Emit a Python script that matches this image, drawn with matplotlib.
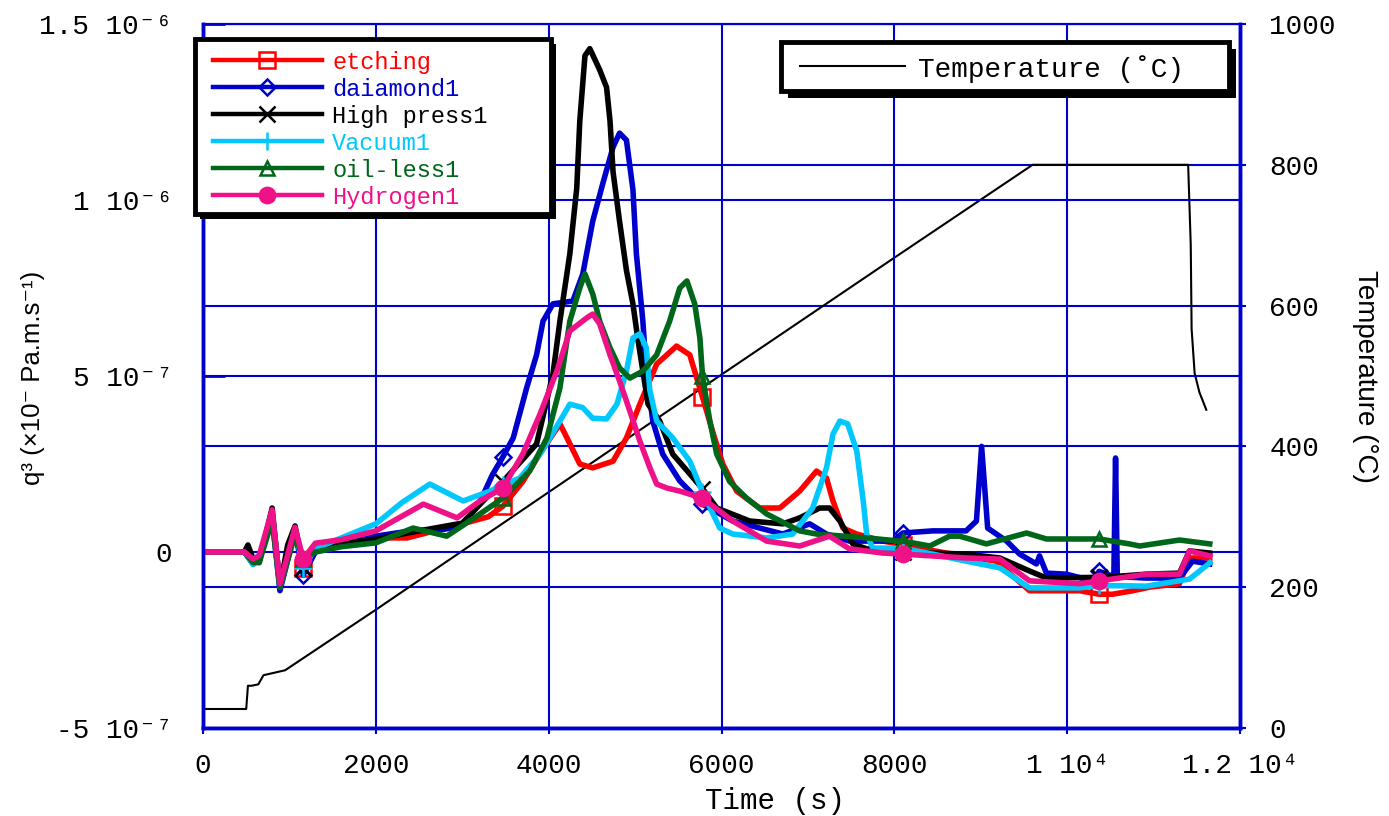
import matplotlib
matplotlib.use('Agg')
import matplotlib.pyplot as plt
import numpy as np
from matplotlib import font_manager
from matplotlib.lines import Line2D
from matplotlib.patches import Rectangle

# ---- data (q in units of 1e-7 Pa.m/s, time in s) ----
MARK_T = [1160, 3470, 5780, 8100, 10370]

t_etch = [0, 480, 580, 650, 800, 890, 1065, 1160, 1300, 1600, 2000, 2360, 3000, 3300, 3470, 3700, 3900, 4130,
          4200, 4360, 4510, 4745, 4900, 5055, 5250, 5480, 5633, 5780, 5900, 6015, 6175, 6440, 6675, 6905, 7100,
          7215, 7290, 7405, 7565, 7870, 8100, 8600, 9180, 9370, 9565, 10145, 10370, 10525, 10760, 10950, 11300,
          11415, 11650]
q_etch = [0, 0, -0.3, -0.2, 1.1, -0.9, 0.6, -0.45, 0.1, 0.25, 0.4, 0.4, 0.8, 1.0, 1.3, 2.0, 2.8, 3.64,
          3.3, 2.5, 2.39, 2.58, 3.24, 4.2, 5.34, 5.85, 5.6, 4.4, 3.4, 2.5, 1.73, 1.25, 1.25, 1.73, 2.3,
          2.1, 1.45, 0.68, 0.51, 0.31, 0.2, -0.03, -0.26, -0.68, -1.1, -1.1, -1.2, -1.2, -1.1, -1.0, -0.9,
          -0.17, -0.17]

t_dia = [0, 480, 580, 650, 800, 890, 1065, 1160, 1300, 1600, 2000, 2400, 2800, 3000, 3200, 3350, 3470, 3590,
         3745, 3860, 3935, 4050, 4280, 4395, 4510, 4630, 4745, 4820, 4900, 4975, 5015, 5090, 5130, 5205, 5320,
         5517, 5780, 6130, 6710, 7020, 7215, 7480, 7980, 8100, 8445, 8830, 8950, 9010, 9080, 9300, 9450, 9645,
         9680, 9760, 9990, 10295, 10370, 10540, 10560, 10580, 10918, 11300, 11450, 11650]
q_dia = [0, 0, -0.35, -0.2, 1.0, -1.1, 0.6, -0.65, 0.0, 0.2, 0.45, 0.6, 0.65, 0.75, 1.4, 2.2, 2.7, 3.24,
         4.66, 5.6, 6.56, 7.05, 7.13, 7.9, 9.4, 10.5, 11.5, 11.9, 11.7, 10.3, 8.47, 6.56, 5.14, 3.72, 2.78,
         2.02, 1.36, 0.88, 0.51, 0.8, 0.51, 0.31, 0.31, 0.54, 0.6, 0.6, 0.88, 3.0, 0.68, 0.31, -0.06, -0.34,
         -0.11, -0.6, -0.63, -0.82, -0.55, -0.7, 2.67, -0.7, -0.74, -0.74, -0.26, -0.34]

t_high = [0, 480, 520, 580, 650, 800, 890, 980, 1065, 1160, 1270, 1585, 2000, 2500, 3000, 3320, 3470, 3860,
          4050, 4130, 4245, 4325, 4360, 4420, 4476, 4590, 4670, 4710, 4745, 4820, 4900, 4975, 5030, 5090, 5150,
          5285, 5436, 5780, 5945, 6326, 6710, 6905, 7136, 7250, 7370, 7520, 7680, 8100, 8445, 8830, 9220, 9565,
          9760, 10370, 10525, 10918, 11300, 11415, 11650]
q_high = [0, 0, 0.2, -0.2, -0.3, 1.25, -1.0, 0.2, 0.74, -0.45, 0.14, 0.23, 0.37, 0.6, 0.82, 1.65, 2.0, 3.07,
          5.06, 6.56, 8.47, 10.34, 12.24, 14.1, 14.3, 13.7, 13.2, 12.24, 10.8, 9.4, 8.0, 7.05, 6.08, 5.14, 4.2,
          3.72, 2.78, 1.8, 1.25, 0.88, 0.8, 0.97, 1.25, 1.25, 0.88, 0.23, 0.09, 0.0, -0.03, -0.06, -0.17, -0.54,
          -0.74, -0.72, -0.7, -0.63, -0.6, 0.03, -0.03]

t_vac = [0, 480, 580, 650, 800, 890, 1065, 1160, 1300, 1600, 2000, 2300, 2625, 3010, 3320, 3470, 3665, 3900,
         4130, 4245, 4395, 4510, 4670, 4790, 4900, 4975, 5055, 5130, 5170, 5250, 5436, 5633, 5780, 5980, 6130,
         6523, 6824, 7055, 7215, 7290, 7370, 7460, 7565, 7640, 7680, 7750, 8060, 8100, 8445, 8830, 9220, 9565,
         10145, 10370, 10918, 11415, 11650]
q_vac = [0, 0, -0.35, -0.2, 1.1, -1.0, 0.65, -0.45, 0.1, 0.4, 0.8, 1.4, 1.93, 1.45, 1.73, 1.9, 2.1, 2.78,
         3.72, 4.2, 4.1, 3.8, 3.78, 4.2, 5.14, 6.08, 6.2, 5.8, 4.6, 3.72, 3.24, 2.58, 1.7, 0.68, 0.51,
         0.4, 0.51, 1.25, 2.39, 3.35, 3.72, 3.64, 2.87, 1.45, 0.51, 0.11, 0.11, 0.1, -0.06, -0.26, -0.45, -1.02,
         -1.02, -0.95, -0.97, -0.77, -0.31]

t_oil = [0, 480, 580, 650, 800, 890, 1065, 1160, 1300, 1600, 2000, 2430, 2820, 3205, 3470, 3780, 3980, 4130,
         4245, 4360, 4420, 4510, 4590, 4710, 4820, 4940, 5090, 5250, 5400, 5517, 5600, 5690, 5750, 5780, 5865,
         5945, 6095, 6290, 6523, 6905, 7100, 7680, 8060, 8100, 8410, 8640, 8755, 9065, 9530, 9760, 10340,
         10370, 10720, 10840, 11300, 11650]
q_oil = [0, 0, -0.3, -0.3, 0.9, -1.0, 0.5, -0.2, 0.0, 0.15, 0.26, 0.68, 0.45, 1.08, 1.53, 2.3, 3.24, 4.66,
         6.56, 7.5, 7.9, 7.33, 6.56, 5.8, 5.23, 4.94, 5.14, 5.6, 6.56, 7.5, 7.7, 7.05, 6.08, 5.0, 3.72,
         2.78, 2.0, 1.53, 1.08, 0.6, 0.51, 0.4, 0.31, 0.31, 0.17, 0.45, 0.45, 0.23, 0.54, 0.37, 0.37,
         0.37, 0.23, 0.17, 0.34, 0.23]

t_hyd = [0, 480, 580, 650, 800, 890, 1065, 1160, 1300, 1600, 2000, 2550, 2940, 3205, 3470, 3700, 3900, 4095,
         4245, 4440, 4510, 4590, 4710, 4820, 4940, 5055, 5170, 5250, 5365, 5517, 5780, 6130, 6523, 6905, 7250,
         7480, 7870, 8100, 8830, 9220, 9565, 10145, 10370, 10918, 11300, 11415, 11650]
q_hyd = [0, 0, -0.2, -0.1, 1.2, -0.9, 0.7, -0.2, 0.25, 0.35, 0.6, 1.36, 0.97, 1.45, 1.82, 2.78, 3.92, 5.14,
         6.28, 6.65, 6.76, 6.48, 5.6, 4.86, 4.0, 3.15, 2.4, 1.93, 1.82, 1.73, 1.53, 0.88, 0.31, 0.17, 0.45,
         0.09, -0.03, -0.06, -0.17, -0.2, -0.82, -0.9, -0.82, -0.63, -0.63, 0.03, -0.11]

t_temp = [0, 500, 520, 560, 640, 700, 950, 2000, 4000, 6000, 8000, 9600, 11400, 11430, 11440, 11475, 11530,
          11610]
temp = [27, 27, 60, 60, 62, 75, 82, 168, 335, 502, 668, 800, 800, 686, 567, 504, 477, 452]

TIME_TICKS = [0, 2000, 4000, 6000, 8000, 10000, 12000]
TIME_LABELS = ['0', '2000', '4000', '6000', '8000', '1 10⁴', '1.2 10⁴']
Q_TICKS = [-5e-7, 0, 5e-7, 1e-6, 1.5e-6]
Q_LABELS = ['-5 10⁻⁷', '0', '5 10⁻⁷', '1 10⁻⁶', '1.5 10⁻⁶']
TEMP_TICKS = [0, 200, 400, 600, 800, 1000]

BLUE = '#0000cc'
SERIES = [
    ('etching', t_etch, q_etch, '#ff0000', dict(marker='s', ms=11, mfc='none')),
    ('daiamond1', t_dia, q_dia, BLUE, dict(marker='D', ms=8, mfc='none')),
    ('High press1', t_high, q_high, 'black', dict(marker='x', ms=11)),
    ('Vacuum1', t_vac, q_vac, '#00c8ff', dict(marker='+', ms=13)),
    ('oil-less1', t_oil, q_oil, '#00661a', dict(marker='^', ms=10, mfc='none')),
    ('Hydrogen1', t_hyd, q_hyd, '#ee1188', dict(marker='o', ms=11)),
]

installed = {f.name for f in font_manager.fontManager.ttflist}
narrow = 'Liberation Sans Narrow' in installed
SANS = ['Liberation Sans Narrow' if narrow else 'Liberation Sans', 'DejaVu Sans']
MONO = ['Liberation Mono', 'DejaVu Sans Mono']

W, H = 1389, 816


def fx(x):
    return x / W


def fy(y):
    return 1 - y / H


fig = plt.figure(figsize=(W / 100, H / 100), dpi=100)
ax = fig.add_axes([fx(203), fy(728), (1240 - 203) / W, (728 - 24) / H])
ax2 = ax.twinx()
ax.set_zorder(ax2.get_zorder() + 1)
ax.patch.set_visible(False)

# temperature on the right axis
ax2.plot(t_temp, temp, color='black', lw=1.5)
ax2.set_ylim(0, 1000)
ax2.set_yticks(TEMP_TICKS)
ax2.set_yticklabels([str(v) for v in TEMP_TICKS], family=MONO, fontsize=20)
ax2.grid(True, axis='y', color=BLUE, lw=1.5)
ax2.tick_params(axis='y', direction='out', length=4, color=BLUE, width=1.5, pad=17)

for label, t, q, col, mk in SERIES:
    idx = [i for i, v in enumerate(t) if v in MARK_T]
    ax.plot(t, np.array(q) * 1e-7, color=col, lw=4, mec=col, mew=1.8, markevery=idx,
            solid_joinstyle='round', **mk)

ax.set_xlim(0, 12000)
ax.set_ylim(-5e-7, 1.5e-6)
ax.set_xticks(TIME_TICKS)
ax.set_xticklabels(TIME_LABELS, family=MONO, fontsize=20)
ax.set_yticks(Q_TICKS)
ax.set_yticklabels(Q_LABELS, family=MONO, fontsize=20)
ax.set_axisbelow(True)
ax.grid(True, color=BLUE, lw=1.5)
ax.tick_params(axis='x', direction='out', length=4, color=BLUE, width=1.5, pad=14)
ax.tick_params(axis='y', direction='in', length=16, color=BLUE, width=2, pad=22)

for a in (ax, ax2):
    for name, sp in a.spines.items():
        sp.set_color(BLUE)
        sp.set_linewidth(1.5 if name == 'top' else 2.5)

fig.text(fx(775), fy(801), 'Time (s)', ha='center', va='center', family=MONO, fontsize=21)
fig.text(fx(33), fy(378), 'q³ (×10⁻ Pa.m.s⁻¹)', rotation=90, ha='center', va='center',
         family=SANS, fontsize=22 if narrow else 18.5)
fig.text(fx(1365), fy(376), 'Temperature (°C)', rotation=270, ha='center', va='center',
         family=SANS, fontsize=23 if narrow else 20)


def box(x0, y0, x1, y1, shadow):
    fig.add_artist(Rectangle((fx(x0 + shadow), fy(y1 + shadow)), (x1 - x0) / W, (y1 - y0) / H,
                             transform=fig.transFigure, facecolor='black', edgecolor='none', zorder=10))
    fig.add_artist(Rectangle((fx(x0), fy(y1)), (x1 - x0) / W, (y1 - y0) / H, transform=fig.transFigure,
                             facecolor='white', edgecolor='black', lw=3.5, zorder=11))


# series legend
box(195, 39, 551, 214, 5)
for i, (label, t, q, col, mk) in enumerate(SERIES):
    y = 60 + 27 * i
    fig.add_artist(Line2D([fx(213), fx(322)], [fy(y), fy(y)], transform=fig.transFigure,
                          color=col, lw=3.2, zorder=12))
    fig.add_artist(Line2D([fx(267)], [fy(y)], transform=fig.transFigure, color=col, lw=0,
                          mec=col, mew=1.8, zorder=13, **mk))
    fig.text(fx(332), fy(y), label, color=col, va='center_baseline', family=MONO, fontsize=17,
             zorder=13)

# temperature legend
box(781, 42, 1229, 91, 7)
fig.add_artist(Line2D([fx(800), fx(905)], [fy(66), fy(66)], transform=fig.transFigure,
                      color='black', lw=1.5, zorder=12))
fig.text(fx(918), fy(66), 'Temperature (˚C)', color='black', va='center_baseline', family=MONO,
         fontsize=20, zorder=13)

fig.savefig('out.png', dpi=100)
